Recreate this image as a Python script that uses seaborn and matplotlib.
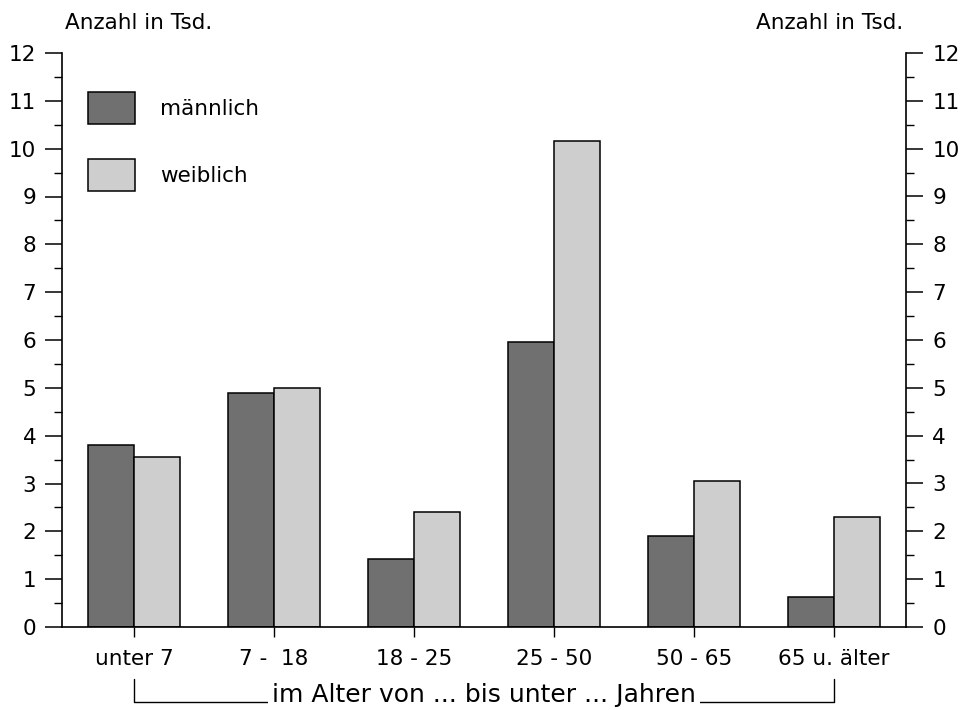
import matplotlib
matplotlib.use("Agg")
import matplotlib.pyplot as plt
import matplotlib.transforms as mtransforms
from matplotlib.ticker import MultipleLocator
import seaborn as sns
import pandas as pd

categories = ["unter 7", "7 -  18", "18 - 25", "25 - 50", "50 - 65", "65 u. älter"]
maennlich = [3.80, 4.90, 1.42, 5.96, 1.91, 0.63]
weiblich = [3.55, 5.00, 2.40, 10.17, 3.06, 2.31]
series_names = ["männlich", "weiblich"]
y_ticks = list(range(0, 13))
axis_label = "Anzahl in Tsd."
bracket_label = "im Alter von ... bis unter ... Jahren"

df = pd.DataFrame({
    "Alter": categories * 2,
    "Anzahl": maennlich + weiblich,
    "Geschlecht": [series_names[0]] * len(categories) + [series_names[1]] * len(categories),
})

sns.set_style("ticks")
plt.rcParams["font.family"] = ["DejaVu Sans"]
plt.rcParams["text.color"] = "black"
plt.rcParams["axes.labelcolor"] = "black"
FS = 15.5

fig = plt.figure(figsize=(9.66, 7.10), dpi=100)
ax = fig.add_axes([62 / 966, (710 - 627) / 710, 844 / 966, 574 / 710])

sns.barplot(data=df, x="Alter", y="Anzahl", hue="Geschlecht", order=categories,
            hue_order=series_names, palette=["#707070", "#cecece"], saturation=1,
            width=0.657, edgecolor="black", linewidth=1.1, ax=ax)

ax.set_xlim(-0.514, 5.514)
ax.set_ylim(0, 12)
ax.set_yticks(y_ticks)
ax.yaxis.set_minor_locator(MultipleLocator(0.5))
ax.set_xlabel("")
ax.set_ylabel("")
for s in ["top", "right"]:
    ax.spines[s].set_visible(False)
for s in ["left", "bottom"]:
    ax.spines[s].set_color("black")
    ax.spines[s].set_linewidth(1.2)

ax.tick_params(axis="y", which="major", direction="out", length=12, width=1.1,
               labelsize=FS, pad=6.5, colors="black")
ax.tick_params(axis="y", which="minor", direction="out", length=6, width=1.0, colors="black")
ax.tick_params(axis="x", which="major", direction="out", length=7, width=1.0,
               labelsize=FS, pad=9, colors="black")

ax2 = ax.twinx()
ax2.set_ylim(0, 12)
ax2.set_yticks(y_ticks)
ax2.yaxis.set_minor_locator(MultipleLocator(0.5))
for s in ["top", "left", "bottom"]:
    ax2.spines[s].set_visible(False)
ax2.spines["right"].set_color("black")
ax2.spines["right"].set_linewidth(1.2)
ax2.tick_params(axis="y", which="major", direction="out", length=12, width=1.1,
                labelsize=FS, pad=7, colors="black")
ax2.tick_params(axis="y", which="minor", direction="out", length=6, width=1.0, colors="black")
ax2.set_ylabel("")

# legend
handles, labels = ax.get_legend_handles_labels()
leg = ax.legend(handles, labels, loc="upper left",
                bbox_to_anchor=(88 / 966, 1 - 92 / 710), bbox_transform=fig.transFigure,
                frameon=False, fontsize=FS, handlelength=2.2, handleheight=1.88,
                labelspacing=1.65, handletextpad=1.15, borderpad=0, borderaxespad=0)
for t in leg.get_texts():
    t.set_color("black")

# axis titles
fig.text(65 / 966, 1 - 29 / 710, axis_label, fontsize=FS, ha="left", va="baseline")
fig.text(903 / 966, 1 - 29 / 710, axis_label, fontsize=FS, ha="right", va="baseline")

# bracket under the x labels
trans = mtransforms.blended_transform_factory(ax.transData, ax.transAxes)
y_top = -0.0906
y_bot = -0.1307
ax.plot([0, 0, 5, 5], [y_top, y_bot, y_bot, y_top], color="black", lw=1.0,
        transform=trans, clip_on=False, zorder=3)
ax.text(2.5, y_bot, bracket_label, transform=trans, ha="center", va="baseline",
        fontsize=18, zorder=4,
        bbox=dict(facecolor="white", edgecolor="none", pad=3))

fig.savefig("out.png", dpi=100)
